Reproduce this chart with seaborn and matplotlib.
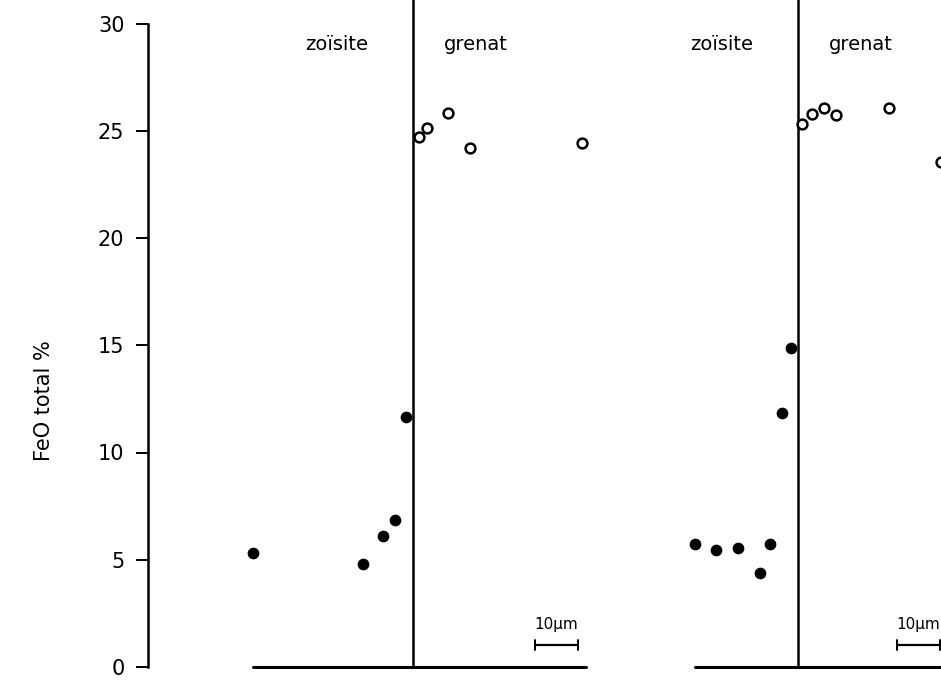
import matplotlib
matplotlib.use("Agg")
import matplotlib.pyplot as plt
import seaborn as sns
import pandas as pd
import numpy as np

# ---- data (distance in µm relative to the zoisite/garnet interface, FeO total %) ----
p1_zoi_x = [-37.2, -11.6, -7.0, -4.2, -1.6]
p1_zoi_y = [5.3, 4.8, 6.1, 6.85, 11.65]
p1_gre_x = [1.4, 3.3, 8.1, 13.3, 39.3]
p1_gre_y = [24.7, 25.15, 25.85, 24.2, 24.45]

p2_zoi_x = [-24.0, -19.1, -14.0, -8.8, -6.5, -3.7, -1.6]
p2_zoi_y = [5.75, 5.45, 5.55, 4.4, 5.75, 11.85, 14.85]
p2_gre_x = [0.9, 3.3, 6.0, 8.8, 21.2, 33.3]
p2_gre_y = [25.3, 25.8, 26.05, 25.75, 26.05, 23.55]

panel_labels = ["zoïsite", "grenat"]
yticks = [0, 5, 10, 15, 20, 25, 30]
ylabel = "FeO total %"
scale_text = "10µm"

# layout (positions of the two profiles along the x axis)
interfaces = [61.6, 151.2]
profile_ext = [(-37.2, 40.2), (-24.0, 40.0)]
scale_start = [28.4, 23.0]

sns.set_style("white")
plt.rcParams['font.family'] = ['DejaVu Sans']
plt.rcParams['text.color'] = 'black'

fig = plt.figure(figsize=(9.41, 6.80), dpi=100)
ax = fig.add_axes([148/941, 13/680, 793/941, 667/680])
ax.set_xlim(0, 184.4)
ax.set_ylim(0, 667/21.45)

rows = []
for off, zx, zy, gx, gy in [(interfaces[0], p1_zoi_x, p1_zoi_y, p1_gre_x, p1_gre_y),
                            (interfaces[1], p2_zoi_x, p2_zoi_y, p2_gre_x, p2_gre_y)]:
    for x, y in zip(zx, zy):
        rows.append({"x": off + x, "y": y, "phase": "zoisite"})
    for x, y in zip(gx, gy):
        rows.append({"x": off + x, "y": y, "phase": "grenat"})
df = pd.DataFrame(rows)

sns.scatterplot(data=df[df.phase == "zoisite"], x="x", y="y", ax=ax, s=55,
                color="black", edgecolor="black", linewidth=1, legend=False, zorder=3, clip_on=False)
sns.scatterplot(data=df[df.phase == "grenat"], x="x", y="y", ax=ax, s=50,
                facecolor="white", edgecolor="black", linewidth=1.8, legend=False, zorder=3, clip_on=False)

for off, (a, b), ss in zip(interfaces, profile_ext, scale_start):
    ax.plot([off, off], [0, 40], color="black", lw=1.8, zorder=2)
    ax.plot([off + a, off + b], [0, 0], color="black", lw=2.2, clip_on=False, zorder=2)
    ax.text(off - 17.7, 29.0, panel_labels[0], ha="center", va="center", fontsize=14, color="black")
    ax.text(off + 14.6, 29.0, panel_labels[1], ha="center", va="center", fontsize=14, color="black")
    yb = 1.02
    ax.plot([off + ss, off + ss + 10], [yb, yb], color="black", lw=1.6)
    for e in (off + ss, off + ss + 10):
        ax.plot([e, e], [yb - 0.22, yb + 0.22], color="black", lw=1.4)
    ax.text(off + ss + 5, yb + 0.6, scale_text, ha="center", va="bottom", fontsize=11, color="black")

ax.set_yticks(yticks)
ax.set_yticklabels([str(t) for t in yticks], fontsize=15, color="black")
ax.set_xticks([])
ax.tick_params(axis="y", direction="out", length=9, width=1.4, pad=8, left=True, colors="black")
for s in ["top", "right", "bottom"]:
    ax.spines[s].set_visible(False)
ax.spines["left"].set_bounds(0, 30)
ax.spines["left"].set_linewidth(1.8)
ax.spines["left"].set_color("black")
ax.set_xlabel("")
ax.set_ylabel(ylabel, fontsize=15, color="black")
ax.yaxis.set_label_coords(-0.118, 0.40)
ax.patch.set_alpha(0)

fig.savefig("out.png", dpi=100, facecolor="white")
